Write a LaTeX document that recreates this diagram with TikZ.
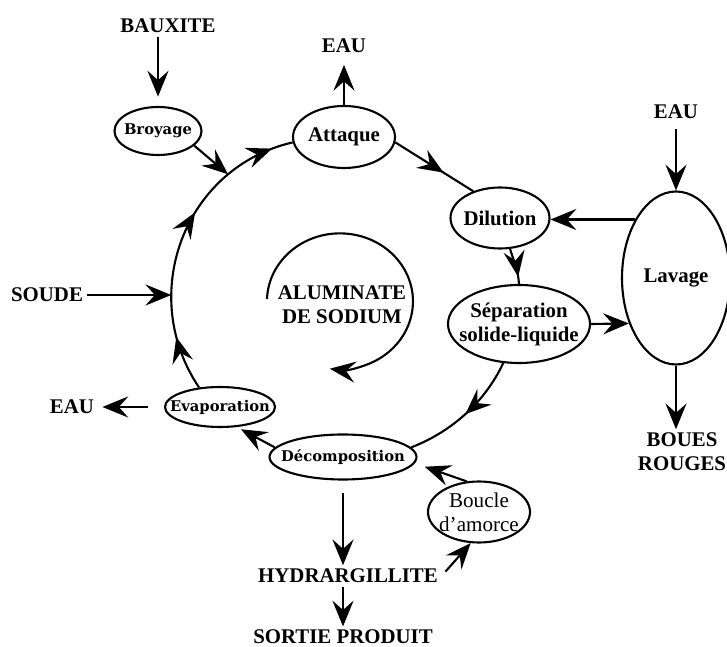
\documentclass[tikz,border=0pt]{standalone}
\usepackage{fontspec}
\setmainfont{Liberation Serif}
\newfontfamily\stagefont{DejaVu Serif}
\usetikzlibrary{shapes.geometric, arrows.meta, decorations.markings}
\newcommand{\bigtext}{\fontsize{17.8}{20.5}\selectfont\bfseries}
\newcommand{\smalltext}{\stagefont\fontsize{12.6}{14}\selectfont\bfseries}
\newcommand{\plaintext}{\fontsize{18}{20.5}\selectfont}

\begin{document}
\begin{tikzpicture}[
  x=0.03cm, y=0.03cm,
  >={Stealth[length=22pt,width=18pt,inset=8pt]},
  stage/.style={draw, ellipse, line width=1.8pt, inner xsep=-0.39cm, inner ysep=0pt, align=center, font=\bigtext},
  word/.style={inner sep=3pt, align=center, font=\bigtext},
  arr/.style={->, line width=1.8pt},
  tipat/.style={postaction={decorate, decoration={markings, mark=at position #1 with {\arrow{>}}}}}
]
\useasboundingbox (0,0) rectangle (727,647);

% stages and products
\node[word] (bauxite) at (168,621) {BAUXITE};
\node[stage, font=\smalltext, minimum width=2.61cm, minimum height=1.44cm] (broyage) at (158,516) {Broyage};
\node[stage, minimum width=3.06cm, minimum height=1.86cm] (attaque) at (344,510) {Attaque};
\node[word] (eautop) at (344,601) {EAU};
\node[stage, minimum width=2.97cm, minimum height=1.83cm] (dilution) at (500,429) {Dilution};
\node[stage, minimum width=3.24cm, minimum height=5.19cm] (lavage) at (676,369) {Lavage};
\node[word] (eauright) at (676,535) {EAU};
\node[word] (boues) at (682,195) {BOUES\\ROUGES};
\node[stage, minimum width=4.26cm, minimum height=2.34cm] (separation) at (519,323) {Séparation\\solide-liquide};
\node[stage, font=\smalltext, minimum width=4.41cm, minimum height=1.35cm] (decomp) at (343,190) {Décomposition};
\node[stage, font=\plaintext, minimum width=3.06cm, minimum height=1.83cm] (boucle) at (479,135) {Boucle\\d'amorce};
\node[word] (hydrar) at (348,71) {HYDRARGILLITE};
\node[word, anchor=base] (sortie) at (343,3) {SORTIE PRODUIT};
\node[stage, font=\smalltext, minimum width=3.3cm, minimum height=1.2cm] (evap) at (220,240) {Evaporation};
\node[word] (eauleft) at (72,240) {EAU};
\node[word] (soude) at (47,352) {SOUDE};
\node[word] (alu) at (342,342) {ALUMINATE\\DE SODIUM};

% the cycle
\draw[line width=1.8pt, tipat=0.18, tipat=0.6, tipat=0.93] (evap.137) to[out=124, in=193, looseness=1.09] coordinate[pos=0.31] (soudein) coordinate[pos=0.77] (broyin) (attaque.186);
\draw[line width=1.8pt, tipat=0.62] (attaque.-6) -- (dilution.135);
\draw[line width=1.8pt, tipat=0.8] (dilution.-72) to[out=287, in=94] (separation.north);
\draw[line width=1.8pt, tipat=0.5] (separation.248) to[out=245, in=21, looseness=0.88] (decomp.8);
\draw[arr, shorten >=4pt] (decomp.172) -- (evap.-50);

% inputs and outputs
\draw[arr, shorten >=8pt] (bauxite.south -| broyage.north) -- (broyage.north);
\draw[arr] (broyage.-22) -- (broyin);
\draw[arr, shorten >=7pt] (attaque.north) -- (eautop.south);
\draw[arr, shorten <=5pt] (eauright.south) -- (lavage.north);
\draw[arr] (lavage.125) -- (lavage.125 -| dilution.east);
\draw[arr] (separation.east) -- (lavage.224);
\draw[arr] (lavage.south) -- (lavage.south |- boues.north);
\draw[arr] (soude.east) -- (soude.east -| soudein);
\draw[arr, shorten <=14pt, shorten >=4pt] (evap.west) -- (eauleft.east);
\draw[arr, shorten >=9pt] (boucle.112) -- (decomp.-5);
\draw[arr, shorten <=5pt] (hydrar.east) -- (boucle.255);
\draw[arr, shorten <=11pt] (decomp.south) -- (decomp.south |- hydrar.north);
\draw[arr] (hydrar.south -| sortie.north) -- (sortie.north);

% inner loop
\draw[arr] ([shift={(-75,6)}]alu.center) arc[start angle=178, end angle=-98, x radius=73, y radius=68];
\end{tikzpicture}
\end{document}
